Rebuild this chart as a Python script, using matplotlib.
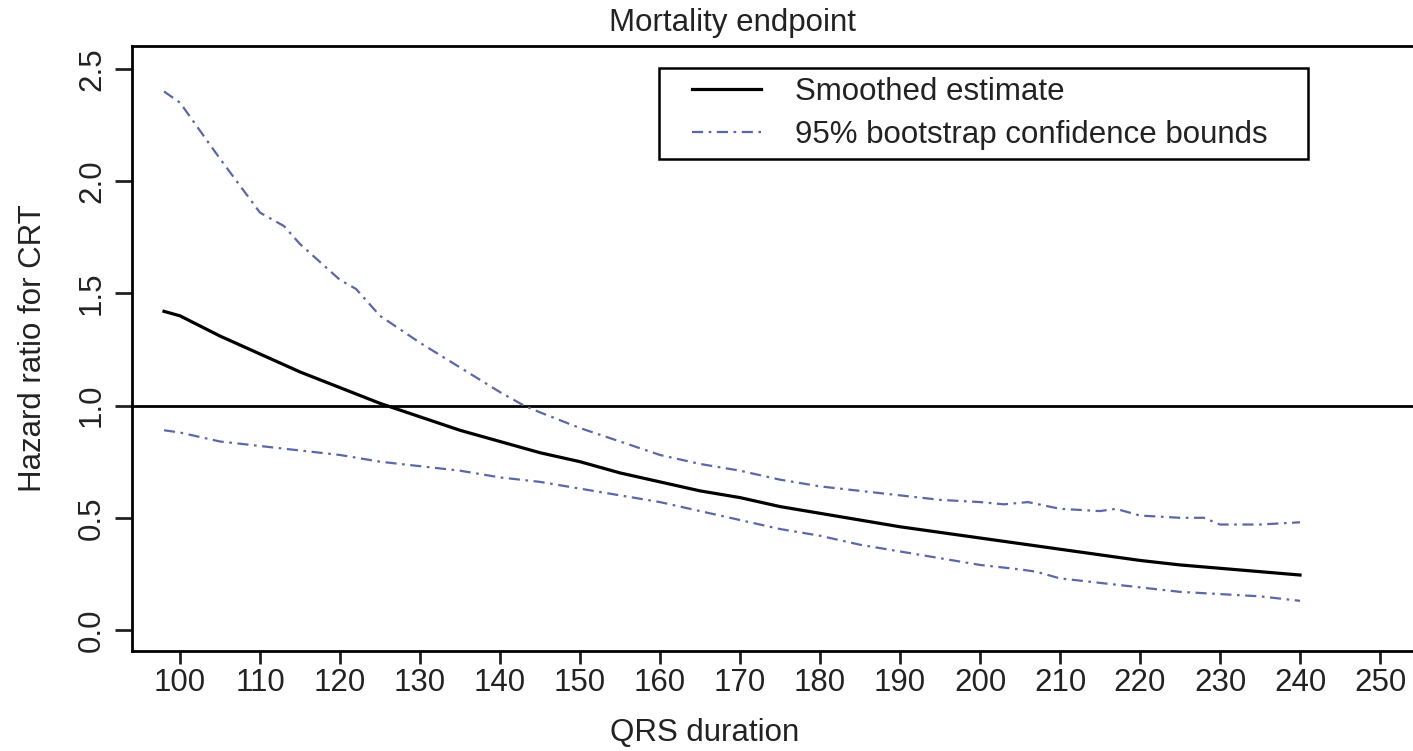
import matplotlib.pyplot as plt
from matplotlib.legend_handler import HandlerLine2D

plt.rcParams['font.family'] = ['Liberation Sans', 'DejaVu Sans']

# QRS duration grid and the smoothed hazard ratio for CRT
qrs = [98, 100, 105, 110, 115, 120, 125, 130, 135, 140, 145, 150, 155, 160,
       165, 170, 175, 180, 185, 190, 195, 200, 205, 210, 215, 220, 225, 230,
       235, 240]
hr_smooth = [1.42, 1.40, 1.31, 1.23, 1.15, 1.08, 1.01, 0.95, 0.89, 0.84,
             0.79, 0.75, 0.70, 0.66, 0.62, 0.59, 0.55, 0.52, 0.49, 0.46,
             0.435, 0.41, 0.385, 0.36, 0.335, 0.31, 0.29, 0.275, 0.26, 0.245]

# bootstrap bounds are rougher, so they carry their own x grid
qrs_up = [98, 100, 105, 110, 113, 115, 120, 122, 125, 130, 135, 140, 143,
          145, 150, 155, 160, 165, 170, 175, 180, 185, 190, 195, 200, 203,
          206, 210, 215, 217, 220, 225, 228, 230, 235, 240]
hr_upper = [2.40, 2.35, 2.10, 1.86, 1.80, 1.72, 1.56, 1.52, 1.40, 1.28,
            1.17, 1.06, 1.00, 0.97, 0.90, 0.84, 0.78, 0.74, 0.71, 0.67,
            0.64, 0.62, 0.60, 0.58, 0.57, 0.56, 0.57, 0.54, 0.53, 0.54,
            0.51, 0.50, 0.50, 0.47, 0.47, 0.48]

qrs_lo = [98, 100, 105, 110, 115, 120, 125, 130, 135, 140, 145, 150, 155,
          160, 165, 170, 175, 180, 185, 190, 195, 200, 205, 207, 210, 215,
          220, 225, 230, 235, 240]
hr_lower = [0.89, 0.88, 0.84, 0.82, 0.80, 0.78, 0.75, 0.73, 0.71, 0.68,
            0.66, 0.63, 0.60, 0.57, 0.53, 0.49, 0.45, 0.42, 0.38, 0.35,
            0.32, 0.29, 0.27, 0.26, 0.23, 0.21, 0.19, 0.17, 0.16, 0.15,
            0.13]

xticks = list(range(100, 251, 10))
yticks = [0.0, 0.5, 1.0, 1.5, 2.0, 2.5]

W, H = 1413, 751
fig = plt.figure(figsize=(W / 100, H / 100), dpi=100)
ax = fig.add_axes([132 / W, 1 - 651 / H, (1430 - 132) / W, (651 - 46) / H])

bound_col = '#5b67a8'
dotdash = (0, (5, 2.5, 1.2, 2.5))
txt_col = '#222222'
fs = 22.5

ax.axhline(1.0, color='black', lw=2.0)
est, = ax.plot(qrs, hr_smooth, color='black', lw=2.3, label='Smoothed estimate')
ub, = ax.plot(qrs_up, hr_upper, color=bound_col, lw=1.6, ls=dotdash,
              label='95% bootstrap confidence bounds')
ax.plot(qrs_lo, hr_lower, color=bound_col, lw=1.6, ls=dotdash)

ax.set_xlim(94.0, 256.25)
ax.set_ylim(-0.0936, 2.6025)
ax.set_xticks(xticks)
ax.set_xticklabels([str(t) for t in xticks])
ax.set_yticks(yticks)
ax.set_yticklabels([f'{t:.1f}' for t in yticks], rotation=90, va='center')

for s in ax.spines.values():
    s.set_linewidth(2.0)
ax.tick_params(axis='both', direction='out', width=2.0, labelsize=fs,
               colors=txt_col)
ax.tick_params(axis='x', length=9.5, pad=3)
ax.tick_params(axis='y', length=12, pad=6)

fig.text(733 / W, 1 - 23 / H, 'Mortality endpoint', ha='center', va='center',
         fontsize=fs, color=txt_col)
fig.text(705 / W, 1 - 733 / H, 'QRS duration', ha='center', va='center',
         fontsize=fs, color=txt_col)
fig.text(33 / W, 1 - 348 / H, 'Hazard ratio for CRT', ha='center', va='center',
         rotation=90, fontsize=fs, color=txt_col)

leg = ax.legend(handles=[est, ub], loc='upper left', mode='expand',
                bbox_to_anchor=(659 / W, 1 - 157 / H, 649 / W, 89 / H),
                bbox_transform=fig.transFigure, borderaxespad=0,
                fontsize=fs, handlelength=2.95, handletextpad=1.1,
                borderpad=0.3, labelspacing=0.4, fancybox=False,
                framealpha=1, edgecolor='black',
                handler_map={est: HandlerLine2D(xpad=0.75),
                             ub: HandlerLine2D(xpad=0.75)})
leg.get_frame().set_linewidth(1.8)
for t in leg.get_texts():
    t.set_color(txt_col)

fig.savefig('out.png', dpi=100)
